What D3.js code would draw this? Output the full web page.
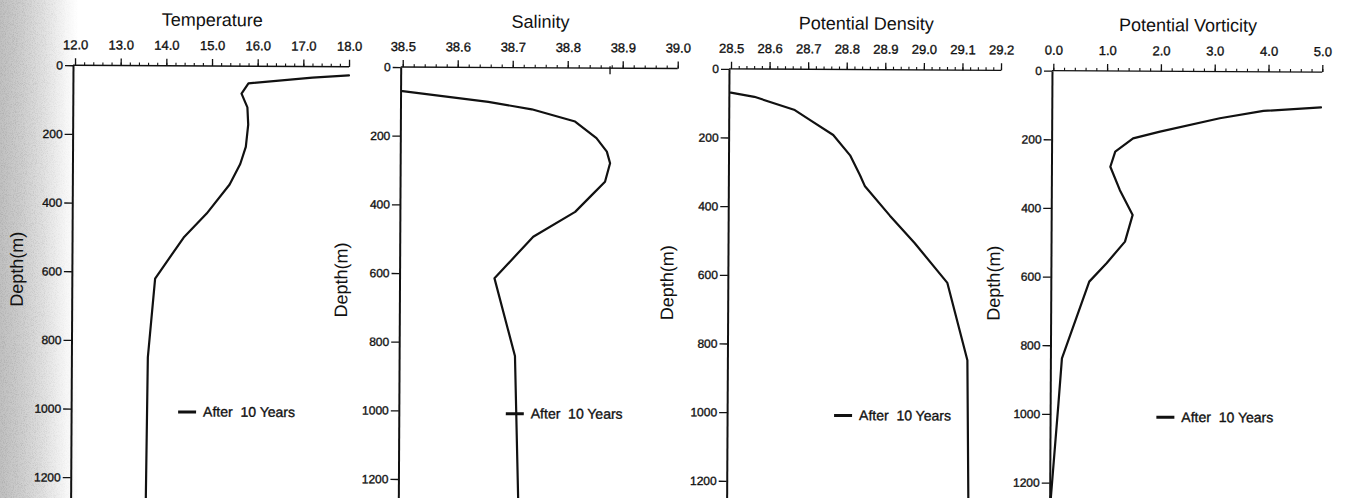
<!DOCTYPE html>
<html>
<head>
<meta charset="utf-8">
<script src="https://cdn.jsdelivr.net/npm/d3@7"></script>
<style>
  html, body { margin: 0; padding: 0; background: #fff; }
  svg { display: block; font-family: "Liberation Sans", Arial, Helvetica, sans-serif; }
</style>
</head>
<body>
<script>
// Vertical profiles after 10 years of integration: depth (m) and value at each level.
const depthTicks = [0, 200, 400, 600, 800, 1000, 1200];

const tempDepth = [25, 32, 50, 80, 120, 170, 235, 285, 345, 430, 500, 620, 850, 1300];
const tempValue = [18.0, 17.2, 15.8, 15.65, 15.78, 15.8, 15.75, 15.63, 15.4, 14.9, 14.4, 13.78, 13.63, 13.6];
const tempTicks = [12, 13, 14, 15, 16, 17, 18];

const salDepth = [70, 100, 121, 156, 204, 243, 277, 331, 370, 419, 492, 614, 840, 1300];
const salValue = [38.5, 38.656, 38.735, 38.814, 38.853, 38.872, 38.878, 38.869, 38.845, 38.815, 38.739, 38.669, 38.707, 38.715];
const salTicks = [38.5, 38.6, 38.7, 38.8, 38.9, 39.0];
const salMarker = [38.877];

const denDepth = [69, 81, 119, 148, 191, 250, 308, 340, 425, 505, 620, 845, 1300];
const denValue = [28.5, 28.561, 28.666, 28.706, 28.766, 28.81, 28.836, 28.849, 28.914, 28.979, 29.064, 29.117, 29.122];
const denTicks = [28.5, 28.6, 28.7, 28.8, 28.9, 29.0, 29.1, 29.2];

const pvDepth = [103, 114, 136, 176, 196, 235, 279, 347, 419, 497, 560, 614, 838, 969, 1240, 1300];
const pvValue = [4.98, 3.91, 3.10, 1.99, 1.49, 1.16, 1.07, 1.25, 1.49, 1.35, 1.01, 0.69, 0.19, 0.13, 0.0, -0.01];
const pvTicks = [0, 1, 2, 3, 4, 5];

const legendLabel = "After  10 Years";

// Panel layout
const panels = [
  { title: "Temperature", depth: tempDepth, value: tempValue, ticks: tempTicks, minor: 0.2,
    x0: 74, x1: 348, axisX: 72, labelX: 17, labelY: 273 },
  { title: "Salinity", depth: salDepth, value: salValue, ticks: salTicks, minor: 0.02,
    x0: 401.7, x1: 676.7, axisX: 399.7, labelX: 341.5, labelY: 282, marker: salMarker },
  { title: "Potential Density", depth: denDepth, value: denValue, ticks: denTicks, minor: 0.02,
    x0: 730, x1: 1000, axisX: 728, labelX: 667.5, labelY: 283 },
  { title: "Potential Vorticity", depth: pvDepth, value: pvValue, ticks: pvTicks, minor: 0.2,
    x0: 1052.3, x1: 1321.3, axisX: 1051, labelX: 994, labelY: 281.5 }
];

const W = 1347, H = 498;
const ink = "#111";
const svg = d3.select("body").append("svg").attr("width", W).attr("height", H);

const defs = svg.append("defs");
const grad = defs.append("linearGradient").attr("id", "shade").attr("x1", 0).attr("x2", 1).attr("y1", 0).attr("y2", 0);
[[0, 0.62], [0.25, 0.5], [0.55, 0.3], [0.85, 0.08], [1, 0]].forEach(([o, a]) => {
  grad.append("stop").attr("offset", o).attr("stop-color", "#9a9a9a").attr("stop-opacity", a);
});
const grain = defs.append("filter").attr("id", "grain").attr("x", 0).attr("y", 0).attr("width", 1).attr("height", 1);
grain.append("feTurbulence").attr("type", "fractalNoise").attr("baseFrequency", 1.1).attr("numOctaves", 2).attr("seed", 4).attr("result", "noise");
grain.append("feColorMatrix").attr("in", "noise").attr("type", "matrix")
  .attr("values", "0 0 0 0 0.35  0 0 0 0 0.35  0 0 0 0 0.35  2.2 0 0 0 -0.95").attr("result", "speck");
grain.append("feComposite").attr("in", "speck").attr("in2", "SourceAlpha").attr("operator", "in").attr("result", "speckIn");
const merge = grain.append("feMerge");
merge.append("feMergeNode").attr("in", "SourceGraphic");
merge.append("feMergeNode").attr("in", "speckIn");

svg.append("rect").attr("width", W).attr("height", H).attr("fill", "#fff");
svg.append("rect").attr("x", 0).attr("y", 0).attr("width", 78).attr("height", H)
  .attr("fill", "url(#shade)").attr("filter", "url(#grain)");

const root = svg.append("g").attr("transform", "rotate(0.315,700,250)");

const y = d3.scaleLinear().domain([0, 1300]).range([68.7, 68.7 + 0.3433 * 1300]);

// heavier strokes on small labels, like photo-set type
const heavy = sel => sel.attr("fill", ink).attr("stroke", ink).attr("stroke-width", 0.35).attr("font-family", null);

panels.forEach(p => {
  const g = root.append("g");
  const x = d3.scaleLinear().domain([p.ticks[0], p.ticks[p.ticks.length - 1]]).range([p.x0, p.x1]);
  const y0 = y(0);

  // minor ticks along the top axis
  const minorVals = d3.range(0, Math.round((x.domain()[1] - x.domain()[0]) / p.minor) + 1)
    .map(i => x.domain()[0] + i * p.minor);
  g.append("g").attr("transform", `translate(0,${y0})`)
    .call(d3.axisTop(x).tickValues(minorVals).tickSize(3).tickFormat(""))
    .call(a => a.select(".domain").remove())
    .call(a => a.selectAll("line").attr("stroke", ink).attr("stroke-width", 1.1));

  // major ticks and labels
  g.append("g").attr("transform", `translate(0,${y0})`)
    .call(d3.axisTop(x).tickValues(p.ticks).tickSize(7).tickPadding(9).tickSizeOuter(0).tickFormat(d3.format(".1f")))
    .call(a => a.select(".domain").attr("stroke", ink).attr("stroke-width", 1.4)
      .attr("d", `M${p.axisX},0H${p.x1}`))
    .call(a => a.selectAll("line").attr("stroke", ink).attr("stroke-width", 1.3))
    .call(a => a.selectAll("text").attr("font-size", 13).call(heavy));

  if (p.marker) {
    g.selectAll(".marker").data(p.marker).join("line").attr("class", "marker")
      .attr("x1", d => x(d)).attr("x2", d => x(d))
      .attr("y1", y0 - 2).attr("y2", y0 + 6)
      .attr("stroke", ink).attr("stroke-width", 1.3);
  }

  // depth axis
  g.append("g").attr("transform", `translate(${p.axisX},0)`)
    .call(d3.axisLeft(y).tickValues(depthTicks).tickSize(8).tickPadding(2).tickSizeOuter(0).tickFormat(d3.format("d")))
    .call(a => a.select(".domain").attr("stroke", ink).attr("stroke-width", 2))
    .call(a => a.selectAll("line").attr("stroke", ink).attr("stroke-width", 1.3))
    .call(a => a.selectAll("text").attr("font-size", 12).call(heavy));

  // title
  g.append("text").attr("x", (p.x0 + p.x1) / 2).attr("y", y0 - 40)
    .attr("text-anchor", "middle").attr("font-size", 18).attr("fill", ink).text(p.title);

  // depth label
  g.append("text").attr("transform", `translate(${p.labelX},${p.labelY}) rotate(-90)`)
    .attr("text-anchor", "middle").attr("dominant-baseline", "central")
    .attr("font-size", 18).attr("fill", ink).text("Depth(m)");

  // profile
  const line = d3.line().x(i => x(p.value[i])).y(i => y(p.depth[i]));
  g.append("path").attr("d", line(d3.range(p.depth.length)))
    .attr("fill", "none").attr("stroke", ink).attr("stroke-width", 2.2)
    .attr("stroke-linejoin", "round").attr("stroke-linecap", "round");

  // legend
  const ly = y(1008);
  g.append("line").attr("x1", p.x0 + 105).attr("x2", p.x0 + 123).attr("y1", ly).attr("y2", ly)
    .attr("stroke", ink).attr("stroke-width", 3);
  g.append("text").attr("x", p.x0 + 130).attr("y", ly + 4.5)
    .attr("font-size", 14).style("white-space", "pre").call(heavy).text(legendLabel);
});
</script>
</body>
</html>
